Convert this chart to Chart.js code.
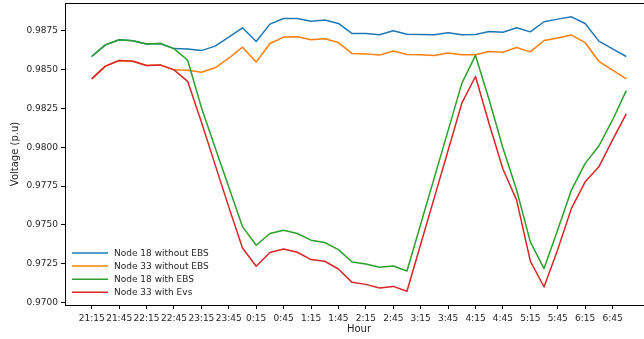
<!DOCTYPE html>
<html><head><meta charset="utf-8">
<script src="https://cdn.jsdelivr.net/npm/chart.js@4/dist/chart.umd.min.js"></script>
<style>
html,body{margin:0;padding:0;overflow:hidden;background:#fff;width:644px;height:339px}
#wrap{width:655px;height:339px}
canvas{display:block}
</style>
</head><body><div id="wrap"><canvas id="c" width="655" height="339"></canvas></div>
<script>
const hours = ['21:15','21:30','21:45','22:00','22:15','22:30','22:45','23:00','23:15','23:30',
  '23:45','0:00','0:15','0:30','0:45','1:00','1:15','1:30','1:45','2:00',
  '2:15','2:30','2:45','3:00','3:15','3:30','3:45','4:00','4:15','4:30',
  '4:45','5:00','5:15','5:30','5:45','6:00','6:15','6:30','6:45','7:00'];
const tickLabels = ['21:15','21:45','22:15','22:45','23:15','23:45','0:15','0:45','1:15','1:45',
  '2:15','2:45','3:15','3:45','4:15','4:45','5:15','5:45','6:15','6:45'];
const yTicks = [0.9700,0.9725,0.9750,0.9775,0.9800,0.9825,0.9850,0.9875];

const node18WithoutEBS = [0.98585,0.98660,0.98693,0.98686,0.98665,0.98669,0.98636,0.98634,0.98623,0.98652,
  0.98710,0.98770,0.98682,0.98794,0.98830,0.98830,0.98813,0.98820,0.98798,0.98733,
  0.98733,0.98725,0.98751,0.98729,0.98727,0.98725,0.98738,0.98725,0.98727,0.98746,
  0.98742,0.98770,0.98744,0.98809,0.98826,0.98841,0.98798,0.98684,0.98634,0.98585];
const node33WithoutEBS = [0.98441,0.98523,0.98559,0.98555,0.98527,0.98531,0.98499,0.98497,0.98484,0.98512,
  0.98574,0.98645,0.98549,0.98669,0.98710,0.98712,0.98693,0.98699,0.98675,0.98604,
  0.98602,0.98594,0.98621,0.98598,0.98596,0.98592,0.98607,0.98596,0.98596,0.98617,
  0.98613,0.98643,0.98615,0.98688,0.98705,0.98723,0.98675,0.98553,0.98497,0.98441];
const node18WithEBS = [0.98585,0.98660,0.98693,0.98686,0.98665,0.98669,0.98636,0.98561,0.98257,0.97999,
  0.97744,0.97488,0.97368,0.97444,0.97465,0.97444,0.97401,0.97386,0.97340,0.97260,
  0.97247,0.97226,0.97234,0.97202,0.97504,0.97806,0.98107,0.98412,0.98592,0.98305,
  0.97995,0.97724,0.97390,0.97218,0.97468,0.97724,0.97896,0.98008,0.98176,0.98365];
const node33WithEvs = [0.98441,0.98523,0.98559,0.98555,0.98527,0.98531,0.98499,0.98425,0.98163,0.97888,
  0.97614,0.97350,0.97233,0.97321,0.97344,0.97323,0.97276,0.97265,0.97215,0.97129,
  0.97116,0.97093,0.97103,0.97072,0.97375,0.97677,0.97979,0.98284,0.98456,0.98150,
  0.97860,0.97659,0.97266,0.97099,0.97341,0.97606,0.97777,0.97874,0.98047,0.98215];

const seriesNames = ['Node 18 without EBS','Node 33 without EBS','Node 18 with EBS','Node 33 with Evs'];
const seriesValues = [node18WithoutEBS,node33WithoutEBS,node18WithEBS,node33WithEvs];
const colors = ['#1f77b4','#ff7f0e','#2ca02c','#d62728'];

Chart.defaults.font.family = "'DejaVu Sans', sans-serif";
Chart.defaults.font.size = 9;
Chart.defaults.color = '#262626';

const datasets = seriesValues.map((vals, k) => ({
  label: seriesNames[k],
  data: vals.map((v, i) => ({x: i, y: v})),
  borderColor: colors[k],
  backgroundColor: colors[k],
  borderWidth: 1.5,
  pointRadius: 0,
  tension: 0,
  fill: false,
  borderJoinStyle: 'round',
  order: 3 - k
}));

const framePlugin = {
  id: 'frame',
  afterDatasetsDraw(chart) {
    const {ctx, chartArea: a} = chart;
    ctx.save();
    ctx.strokeStyle = '#000';
    ctx.lineWidth = 1;
    ctx.beginPath();
    ctx.moveTo(a.left, Math.round(a.top) + 0.5);
    ctx.lineTo(a.right, Math.round(a.top) + 0.5);
    ctx.lineTo(a.right, a.bottom);
    ctx.stroke();
    // legend (lower left, inside axes)
    const x0 = a.left + 7, y0 = a.bottom - 52;
    ctx.font = "9px 'DejaVu Sans', sans-serif";
    ctx.textBaseline = 'middle';
    ctx.textAlign = 'left';
    chart.data.datasets.forEach((ds, k) => {
      const y = y0 + k * 13.1;
      ctx.strokeStyle = ds.borderColor;
      ctx.lineWidth = 1.5;
      ctx.beginPath();
      ctx.moveTo(x0, y);
      ctx.lineTo(x0 + 36, y);
      ctx.stroke();
      ctx.fillStyle = '#262626';
      ctx.fillText(ds.label, x0 + 42, y + 0.5);
    });
    ctx.restore();
  }
};

new Chart(document.getElementById('c'), {
  type: 'line',
  data: { datasets },
  plugins: [framePlugin],
  options: {
    responsive: false,
    animation: false,
    devicePixelRatio: 1,
    layout: { padding: { left: 0, right: 2, top: 3, bottom: 0 } },
    plugins: { legend: { display: false }, tooltip: { enabled: false } },
    scales: {
      x: {
        type: 'linear',
        min: -1.95,
        max: 40.95,
        afterFit(s) { s.height = 34; s.paddingLeft = 0; s.paddingRight = 0; },
        afterBuildTicks(s) { s.ticks = tickLabels.map((_, j) => ({ value: j * 2 })); },
        ticks: {
          autoSkip: false,
          maxRotation: 0,
          padding: 4,
          color: '#262626',
          callback: (v) => tickLabels[Math.round(v / 2)]
        },
        grid: { drawOnChartArea: false, drawTicks: true, tickLength: 4, tickColor: '#000', tickWidth: 1 },
        border: { display: true, color: '#000', width: 1 },
        title: { display: true, text: 'Hour', color: '#262626', font: { size: 10 }, padding: { top: 0, bottom: 4 } }
      },
      y: {
        min: 0.96983,
        max: 0.98930,
        afterFit(s) { s.width = 65; s.paddingTop = 0; s.paddingBottom = 0; },
        afterBuildTicks(s) { s.ticks = yTicks.map(v => ({ value: v })); },
        ticks: {
          padding: 3,
          color: '#262626',
          callback: (v) => v.toFixed(4)
        },
        grid: { drawOnChartArea: false, drawTicks: true, tickLength: 4, tickColor: '#000', tickWidth: 1 },
        border: { display: true, color: '#000', width: 1 },
        title: { display: true, text: 'Voltage (p.u)', color: '#262626', font: { size: 10 }, padding: { top: 9, bottom: 0 } }
      }
    }
  }
});
</script>
</body></html>
